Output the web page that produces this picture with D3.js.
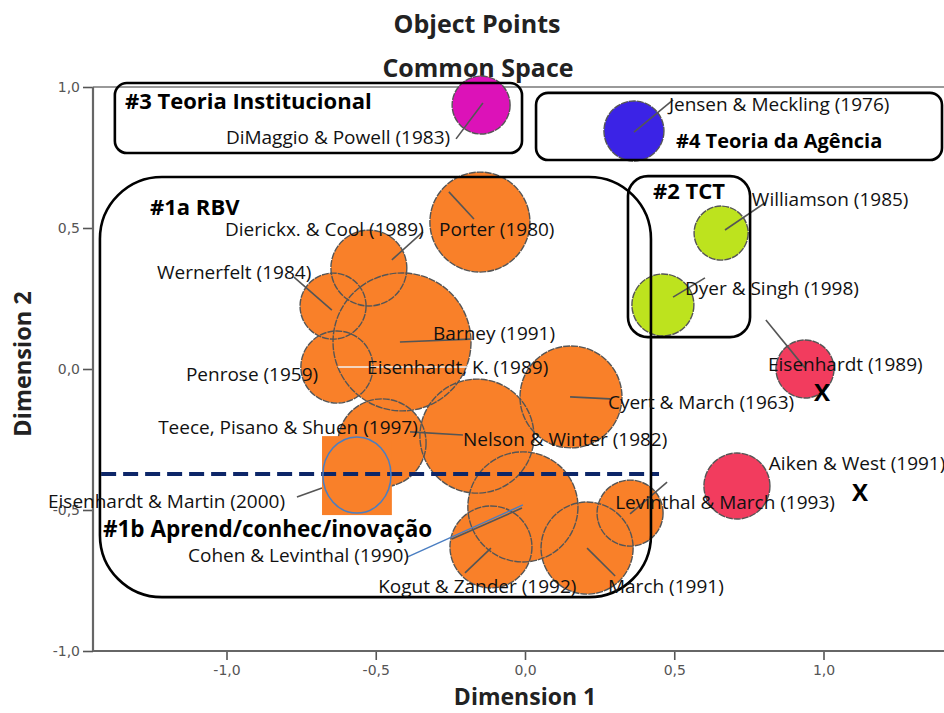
<!DOCTYPE html>
<html><head><meta charset="utf-8">
<script src="https://cdn.jsdelivr.net/npm/d3@7"></script>
<style>body{margin:0;background:#fff}svg{display:block}</style>
</head><body>
<script>
// ---- data ----
const names = ["DiMaggio & Powell (1983)","Jensen & Meckling (1976)","Porter (1980)","Dierickx. & Cool (1989)","Wernerfelt (1984)","Barney (1991)","Penrose (1959)","Teece, Pisano & Shuen (1997)","Nelson & Winter (1982)","Cyert & March (1963)","Cohen & Levinthal (1990)","Kogut & Zander (1992)","March (1991)","Levinthal & March (1993)","Williamson (1985)","Dyer & Singh (1998)","Eisenhardt (1989)","Aiken & West (1991)"];
const dim1 = [-0.147,0.365,-0.151,-0.523,-0.643,-0.412,-0.630,-0.479,-0.161,0.154,-0.007,-0.114,0.208,0.352,0.657,0.462,0.938,0.710];
const dim2 = [0.936,0.844,0.521,0.358,0.223,0.096,0.007,-0.262,-0.238,-0.099,-0.489,-0.631,-0.635,-0.511,0.482,0.227,0.0,-0.415];
const sizes = [8.4,9.0,25.0,14.4,10.9,47.6,13.0,19.4,32.5,26.0,30.3,16.8,21.2,10.9,7.3,9.6,8.4,10.9];
const groups = ["inst","agency","rbv","rbv","rbv","rbv","rbv","rbv","rbv","rbv","rbv","rbv","rbv","rbv","tct","tct","other","other"];

// highlighted point (Eisenhardt & Martin 2000)
const highlight = {name:"Eisenhardt & Martin (2000)", x:-0.563, y:-0.376, size:11.6};

// label anchors (data coords)
const labelText = ["DiMaggio & Powell (1983)","Jensen & Meckling (1976)","Porter (1980)","Dierickx. & Cool (1989)","Williamson (1985)","Wernerfelt (1984)","Dyer & Singh (1998)","Barney (1991)","Penrose (1959)","Eisenhardt, K. (1989)","Eisenhardt (1989)","Cyert & March (1963)","Teece, Pisano & Shuen (1997)","Nelson & Winter (1982)","Aiken & West (1991)","Eisenhardt & Martin (2000)","Levinthal & March (1993)","Cohen & Levinthal (1990)","Kogut & Zander (1992)","March (1991)"];
const labelX = [-1.002,0.482,-0.288,-1.005,0.760,-1.233,0.536,-0.308,-1.136,-0.529,0.814,0.278,-1.229,-0.208,0.817,-1.598,0.302,-1.129,-0.492,0.278];
const labelY = [0.798,0.915,0.472,0.472,0.579,0.320,0.263,0.103,-0.042,-0.017,-0.007,-0.141,-0.230,-0.273,-0.358,-0.492,-0.496,-0.684,-0.794,-0.794];

// leader lines (data coords)
const leaders = [
  [-0.141,0.943,-0.231,0.816],[0.365,0.840,0.496,0.954],[-0.171,0.532,-0.255,0.628],
  [-0.446,0.387,-0.342,0.486],[-0.774,0.326,-0.647,0.209],[-0.419,0.096,-0.184,0.106],
  [0.151,-0.099,0.285,-0.106],[-0.385,-0.223,-0.208,-0.234],[-0.245,-0.603,-0.010,-0.493],
  [-0.201,-0.723,-0.114,-0.635],[0.208,-0.635,0.302,-0.734],[0.352,-0.514,0.476,-0.401],
  [0.670,0.493,0.804,0.589],[0.496,0.255,0.603,0.323],[0.807,0.174,0.938,0.004],
  [-0.764,-0.454,-0.680,-0.422]];
const lightLeader = [-0.626,0.007,-0.194,0.007];
const blueLeader = [-0.395,-0.667,-0.007,-0.482];

// group boxes (data coords: x0,x1,y0,y1)
const boxes = [
  {x0:-1.374,x1:-0.010,y0:1.014,y1:0.766,r:12},
  {x0:0.037,x1:1.397,y0:0.979,y1:0.741,r:12},
  {x0:-1.424,x1:0.422,y0:0.681,y1:-0.809,r:62},
  {x0:0.345,x1:0.754,y0:0.684,y1:0.113,r:20}];
const boxLabels = ["#3 Teoria Institucional","#4 Teoria da Agência","#1a RBV","#2 TCT","#1b Aprend/conhec/inovação"];
const boxLabelX = [-1.340,0.506,-1.256,0.429,-1.414];
const boxLabelY = [0.923,0.784,0.547,0.603,-0.595];
const boxLabelSize = [22,20,22,22,22.5];
const xMarks = [[0.995,-0.113],[1.122,-0.468]];
const divider = {x0:-1.420,x1:0.449,y:-0.372};
const squareBox = {x0:-0.680,x1:-0.446,y0:-0.238,y1:-0.518};

const tickVals = [-1,-0.5,0,0.5,1];
const tickLabels = ["-1,0","-0,5","0,0","0,5","1,0"];
const colors = {rbv:"#F98029", tct:"#BDE31E", inst:"#DC12B8", agency:"#3B23E6", other:"#F23C5E"};

// ---- chart ----
const W=944,H=713;
const svg=d3.select("body").append("svg").attr("width",W).attr("height",H);
const x=d3.scaleLinear().domain([-1,1]).range([226.5,823.5]);
const y=d3.scaleLinear().domain([-1,1]).range([651,87]);
const r=d3.scaleSqrt().domain([0,100]).range([0,100]);
const F="'Open Sans', Lato, sans-serif";

svg.append("text").attr("x",477).attr("y",33).attr("text-anchor","middle")
  .attr("font-family",F).attr("font-weight","bold").attr("font-size",25).attr("fill","#222").text("Object Points");
svg.append("text").attr("x",478).attr("y",77).attr("text-anchor","middle")
  .attr("font-family",F).attr("font-weight","bold").attr("font-size",25).attr("fill","#222").text("Common Space");

const xL=x.invert(93);
// axes
const gx=svg.append("g").attr("transform",`translate(0,${y(-1)})`)
  .call(d3.axisBottom(x).tickValues(tickVals).tickFormat((d,i)=>tickLabels[i]).tickSizeOuter(0).tickSize(9).tickPadding(5));
const gy=svg.append("g").attr("transform",`translate(${x(xL)},0)`)
  .call(d3.axisLeft(y).tickValues(tickVals).tickFormat((d,i)=>tickLabels[i]).tickSizeOuter(0).tickSize(10).tickPadding(3));
[gx,gy].forEach(g=>{
  g.select(".domain").remove();
  g.selectAll(".tick line").attr("stroke","#555").attr("stroke-width",1.6);
  g.selectAll(".tick text").attr("font-family","'DejaVu Sans', sans-serif").attr("font-size",14).attr("fill","#555");
});
// frame lines
svg.append("line").attr("x1",x(xL)).attr("x2",W).attr("y1",y(-1)).attr("y2",y(-1)).attr("stroke","#666").attr("stroke-width",2.2);
svg.append("line").attr("x1",x(xL)).attr("x2",W).attr("y1",y(1)).attr("y2",y(1)).attr("stroke","#777").attr("stroke-width",1.6);
svg.append("line").attr("x1",x(xL)).attr("x2",x(xL)).attr("y1",y(1)).attr("y2",y(-1)).attr("stroke","#666").attr("stroke-width",2.2);

svg.append("text").attr("x",x(0)).attr("y",705).attr("text-anchor","middle")
  .attr("font-family",F).attr("font-weight","bold").attr("font-size",23).attr("fill","#222").text("Dimension 1");
svg.append("text").attr("transform",`translate(31,${y(0)-5}) rotate(-90)`).attr("text-anchor","middle")
  .attr("font-family",F).attr("font-weight","bold").attr("font-size",23.5).attr("fill","#222").text("Dimension 2");

const pts=names.map((n,i)=>({name:n,x:dim1[i],y:dim2[i],s:sizes[i],g:groups[i]}));
// fills
svg.append("g").selectAll("circle").data(pts).join("circle")
  .attr("cx",d=>x(d.x)).attr("cy",d=>y(d.y)).attr("r",d=>r(d.s)).attr("fill",d=>colors[d.g]);
// outlines
svg.append("g").selectAll("circle").data(pts).join("circle")
  .attr("cx",d=>x(d.x)).attr("cy",d=>y(d.y)).attr("r",d=>r(d.s))
  .attr("fill","none").attr("stroke","#555").attr("stroke-width",1.4).attr("stroke-dasharray","7,1");

// leaders
svg.append("g").selectAll("line").data(leaders).join("line")
  .attr("x1",d=>x(d[0])).attr("y1",d=>y(d[1])).attr("x2",d=>x(d[2])).attr("y2",d=>y(d[3]))
  .attr("stroke","#555").attr("stroke-width",1.6);
svg.append("line").attr("x1",x(lightLeader[0])).attr("y1",y(lightLeader[1])).attr("x2",x(lightLeader[2])).attr("y2",y(lightLeader[3]))
  .attr("stroke","#f2f2f2").attr("stroke-width",1.6);

// highlight square
svg.append("rect").attr("x",x(squareBox.x0)).attr("y",y(squareBox.y0))
  .attr("width",x(squareBox.x1)-x(squareBox.x0)).attr("height",y(squareBox.y1)-y(squareBox.y0)).attr("fill",colors.rbv);

// dashed divider
svg.append("line").attr("x1",x(divider.x0)).attr("x2",x(divider.x1)).attr("y1",y(divider.y)).attr("y2",y(divider.y))
  .attr("stroke","#0D2668").attr("stroke-width",4).attr("stroke-dasharray","15,7");

svg.append("ellipse").attr("cx",x(highlight.x)).attr("cy",y(highlight.y)).attr("rx",r(highlight.size)).attr("ry",r(highlight.size)+4)
  .attr("fill","none").attr("stroke","#4A7EC2").attr("stroke-width",1.5);
svg.append("line").attr("x1",x(blueLeader[0])).attr("y1",y(blueLeader[1])).attr("x2",x(blueLeader[2])).attr("y2",y(blueLeader[3]))
  .attr("stroke","#4A7EC2").attr("stroke-width",1.5);

// boxes
svg.append("g").selectAll("rect").data(boxes).join("rect")
  .attr("x",d=>x(d.x0)).attr("y",d=>y(d.y0)).attr("width",d=>x(d.x1)-x(d.x0)).attr("height",d=>y(d.y1)-y(d.y0))
  .attr("rx",d=>d.r).attr("ry",d=>d.r).attr("fill","none").attr("stroke","#000").attr("stroke-width",2.6);

// labels
svg.append("g").selectAll("text").data(labelText).join("text")
  .attr("x",(d,i)=>x(labelX[i])).attr("y",(d,i)=>y(labelY[i]))
  .attr("font-family",F).attr("font-size",19).attr("fill","#111").text(d=>d);
svg.append("g").selectAll("text").data(boxLabels).join("text")
  .attr("x",(d,i)=>x(boxLabelX[i])).attr("y",(d,i)=>y(boxLabelY[i]))
  .attr("font-family",F).attr("font-weight","bold").attr("font-size",(d,i)=>boxLabelSize[i]).attr("fill","#000").text(d=>d);
svg.append("g").selectAll("text").data(xMarks).join("text")
  .attr("x",d=>x(d[0])).attr("y",d=>y(d[1])).attr("text-anchor","middle")
  .attr("font-family",F).attr("font-weight","bold").attr("font-size",24).attr("fill","#000").text("X");
</script>
</body></html>
